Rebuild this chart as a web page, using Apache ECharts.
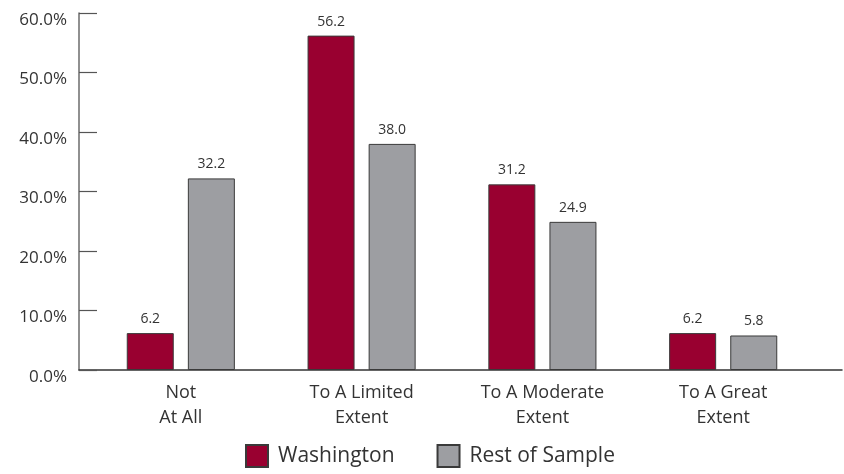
<!DOCTYPE html>
<html>
<head>
<meta charset="utf-8">
<script src="https://cdn.jsdelivr.net/npm/echarts@6/dist/echarts.min.js"></script>
<style>
  html, body { margin: 0; padding: 0; background: #ffffff; }
  #chart { width: 844px; height: 474px; }
</style>
</head>
<body>
<div id="chart"></div>
<script>
// Extent of use, Washington vs. rest of sample (percent of respondents)
var categories = ['Not\nAt All', 'To A Limited\nExtent', 'To A Moderate\nExtent', 'To A Great\nExtent'];
var washington = [6.2, 56.2, 31.2, 6.2];
var restOfSample = [32.2, 38.0, 24.9, 5.8];
var seriesNames = ['Washington', 'Rest of Sample'];
var yTicks = [0, 10, 20, 30, 40, 50, 60];

var FONT = 'Open Sans';
var TEXT = '#333333';

var chart = echarts.init(document.getElementById('chart'), null, { renderer: 'canvas' });

var barLabel = {
  show: true,
  position: 'top',
  distance: 7,
  color: TEXT,
  fontFamily: FONT,
  fontSize: 14,
  formatter: function (p) { return p.value.toFixed(1); }
};

chart.setOption({
  animation: false,
  textStyle: { fontFamily: FONT },
  grid: [
    { left: 90.4, width: 723.2, top: 13, bottom: 104, containLabel: false },
    // full-width baseline running from the value axis to the right edge
    { left: 79, right: 2, top: 13, bottom: 104, containLabel: false }
  ],
  legend: {
    bottom: 1,
    left: 240,
    itemWidth: 22,
    itemHeight: 22,
    itemGap: 42,
    icon: 'rect',
    textStyle: { color: TEXT, fontFamily: FONT, fontSize: 21, padding: [0, 0, 0, 5] },
    data: seriesNames
  },
  xAxis: [
    {
      type: 'category',
      gridIndex: 0,
      data: categories,
      axisLine: { show: false },
      axisTick: { show: false },
      axisLabel: {
        color: TEXT,
        fontFamily: FONT,
        fontSize: 18,
        lineHeight: 25,
        margin: 10
      }
    },
    {
      type: 'category',
      gridIndex: 1,
      data: [],
      axisLine: { show: true, lineStyle: { color: '#333333', width: 1.5 } },
      axisTick: { show: false },
      axisLabel: { show: false }
    }
  ],
  yAxis: [
    {
      type: 'value',
      gridIndex: 0,
      min: yTicks[0],
      max: yTicks[yTicks.length - 1],
      interval: 10,
      offset: 11.4,
      splitLine: { show: false },
      axisLine: { show: true, lineStyle: { color: '#6b6b6b', width: 1.5 } },
      axisTick: { show: true, inside: true, length: 18, lineStyle: { color: '#555555', width: 1.2 } },
      axisLabel: {
        color: TEXT,
        fontFamily: FONT,
        fontSize: 17,
        margin: 12,
        verticalAlign: 'top',
        lineHeight: 14,
        formatter: function (v) { return v.toFixed(1) + '%'; }
      }
    },
    {
      type: 'value',
      gridIndex: 1,
      min: 0,
      max: 60,
      show: false
    }
  ],
  series: [
    {
      name: seriesNames[0],
      type: 'bar',
      xAxisIndex: 0,
      yAxisIndex: 0,
      data: washington,
      barWidth: 47,
      barGap: '30%',
      itemStyle: { color: '#990030', borderColor: '#3a3a3a', borderWidth: 1 },
      label: barLabel
    },
    {
      name: seriesNames[1],
      type: 'bar',
      xAxisIndex: 0,
      yAxisIndex: 0,
      data: restOfSample,
      barWidth: 47,
      barGap: '30%',
      itemStyle: { color: '#9d9ea2', borderColor: '#3a3a3a', borderWidth: 1 },
      label: barLabel
    }
  ]
});
</script>
</body>
</html>
